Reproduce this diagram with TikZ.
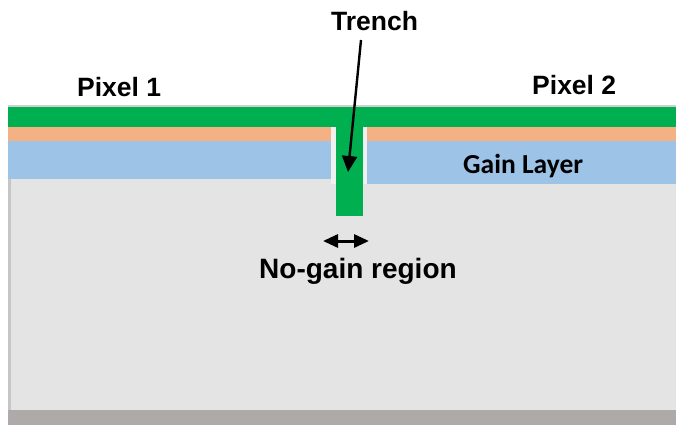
\documentclass[tikz,border=0pt]{standalone}
\usepackage{fontspec}
\setmainfont{Liberation Sans}
\newfontfamily\calib{Carlito}
\usetikzlibrary{arrows.meta}
\definecolor{bodygrey}{HTML}{E4E4E4}
\definecolor{edgegrey}{HTML}{C6C6C6}
\definecolor{topline}{HTML}{CFCFCF}
\definecolor{basegrey}{HTML}{AEAAAA}
\definecolor{metal}{HTML}{00B050}
\definecolor{orangel}{HTML}{F4B183}
\definecolor{gainblue}{HTML}{9DC3E6}
\definecolor{gapgrey}{HTML}{F0F0F0}
\tikzset{
  lbl/.style={inner sep=0pt, anchor=base west, font=\fontsize{26.5}{31}\selectfont\bfseries},
  lblbig/.style={inner sep=0pt, anchor=base west, font=\fontsize{28}{33}\selectfont\bfseries},
  blk/.style={draw=none, inner sep=0pt, outer sep=0pt},
  pointer/.style={line width=2.4pt, -{Triangle[length=16pt,width=15pt]}},
  span/.style={line width=3pt, {Triangle[length=15pt,width=13pt]}-{Triangle[length=15pt,width=13pt]}}
}
\begin{document}
\begin{tikzpicture}[x=1pt,y=-1pt]
\useasboundingbox (0,0) rectangle (676,425);
% substrate body
\fill[topline] (8,105) rectangle (676,410);
\fill[bodygrey] (8,107) rectangle (676,410);
\fill[edgegrey] (8,179) rectangle (11,410);
\fill[basegrey] (8,410) rectangle (676,425);
% gaps beside trench
\fill[gapgrey] (331,127) rectangle (367,184);
% top metal
\fill[metal] (8,107) rectangle (676,127);
% orange layer
\fill[orangel] (8,127) rectangle (331,141);
\fill[orangel] (367,127) rectangle (676,141);
% gain layer
\fill[gainblue] (8,141) rectangle (331,179);
\node[blk, fill=gainblue, minimum width=309pt, minimum height=43pt] (gainR) at (521.5,162.5) {};
% trench
\node[blk, fill=metal, minimum width=27pt, minimum height=109pt] (trench) at (349.5,161.5) {};
% labels
\node[lbl] (tlabel) at (331,31) {Trench};
\node[lbl] (p1) at (77,96) {Pixel 1};
\node[lbl] (p2) at (532,95) {Pixel 2};
\node[inner sep=0pt, anchor=base west, font=\calib\fontsize{27.5}{32}\selectfont\bfseries] (gl) at (463,173) {Gain Layer};
\node[lblbig] (ng) at (259,278) {No-gain region};
% arrows
\coordinate (tstart) at (361,40);
\coordinate (ttip) at (348,172);
\draw[pointer] (tstart) -- (ttip);
\coordinate (ngL) at (323,241);
\coordinate (ngR) at (369,241);
\draw[span] (ngL) -- (ngR);
\end{tikzpicture}
\end{document}
